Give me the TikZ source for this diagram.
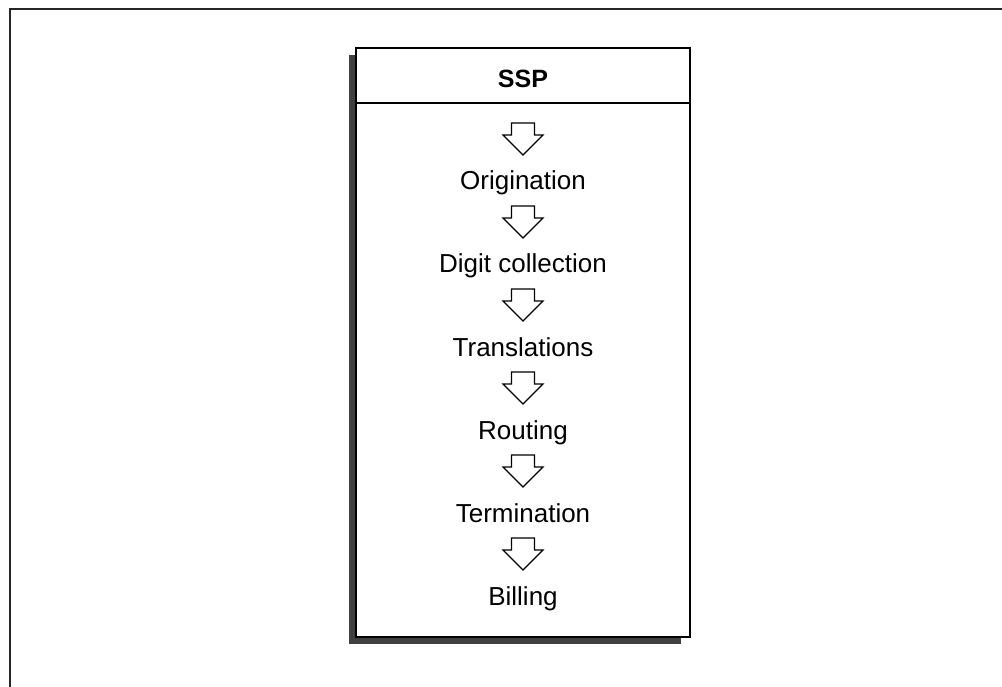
\documentclass[tikz,border=0pt]{standalone}
\usepackage{fontspec}
\setmainfont{Liberation Sans}
\begin{document}
\begin{tikzpicture}[x=1pt,y=-1pt,
  frame/.style={line width=1.8pt, draw=black!85},
  boxline/.style={line width=1.3pt, draw=black},
  shadowfill/.style={fill=black!75, draw=none},
  label/.style={anchor=base, inner sep=0pt, font=\fontsize{26}{30}\selectfont},
  title/.style={anchor=base, inner sep=0pt, font=\fontsize{25}{30}\selectfont\bfseries},
  blockarrow/.style={line width=1.2pt, draw=black, fill=white, line join=miter},
  pics/downarrow/.style={code={
    \draw[blockarrow] (-11.5,0) -- (11.5,0) -- (11.5,12) -- (20,12) -- (0,32)
      -- (-20,12) -- (-11.5,12) -- cycle;
  }}
]
\path[use as bounding box] (0,0) rectangle (1002,687);
\draw[frame] (10,687) -- (10,9) -- (1002,9);
% shadow and box
\fill[shadowfill] (349,55) rectangle (681,644);
\draw[boxline, fill=white] (356,48) rectangle (690,637);
\coordinate (hl) at (356,103);
\coordinate (hr) at (690,103);
\draw[boxline] (hl) -- (hr);
\node[title] (ssp) at (523,88) {SSP};
% arrows
\pic at (523,123) {downarrow};
\pic at (523,206) {downarrow};
\pic at (523,289) {downarrow};
\pic at (523,372) {downarrow};
\pic at (523,455) {downarrow};
\pic at (523,538) {downarrow};
% labels
\node[label] (orig) at (523,190) {Origination};
\node[label] (digit) at (523,273) {Digit collection};
\node[label] (trans) at (523,356) {Translations};
\node[label] (rout) at (523,439) {Routing};
\node[label] (term) at (523,522) {Termination};
\node[label] (bill) at (523,605) {Billing};
\end{tikzpicture}
\end{document}
